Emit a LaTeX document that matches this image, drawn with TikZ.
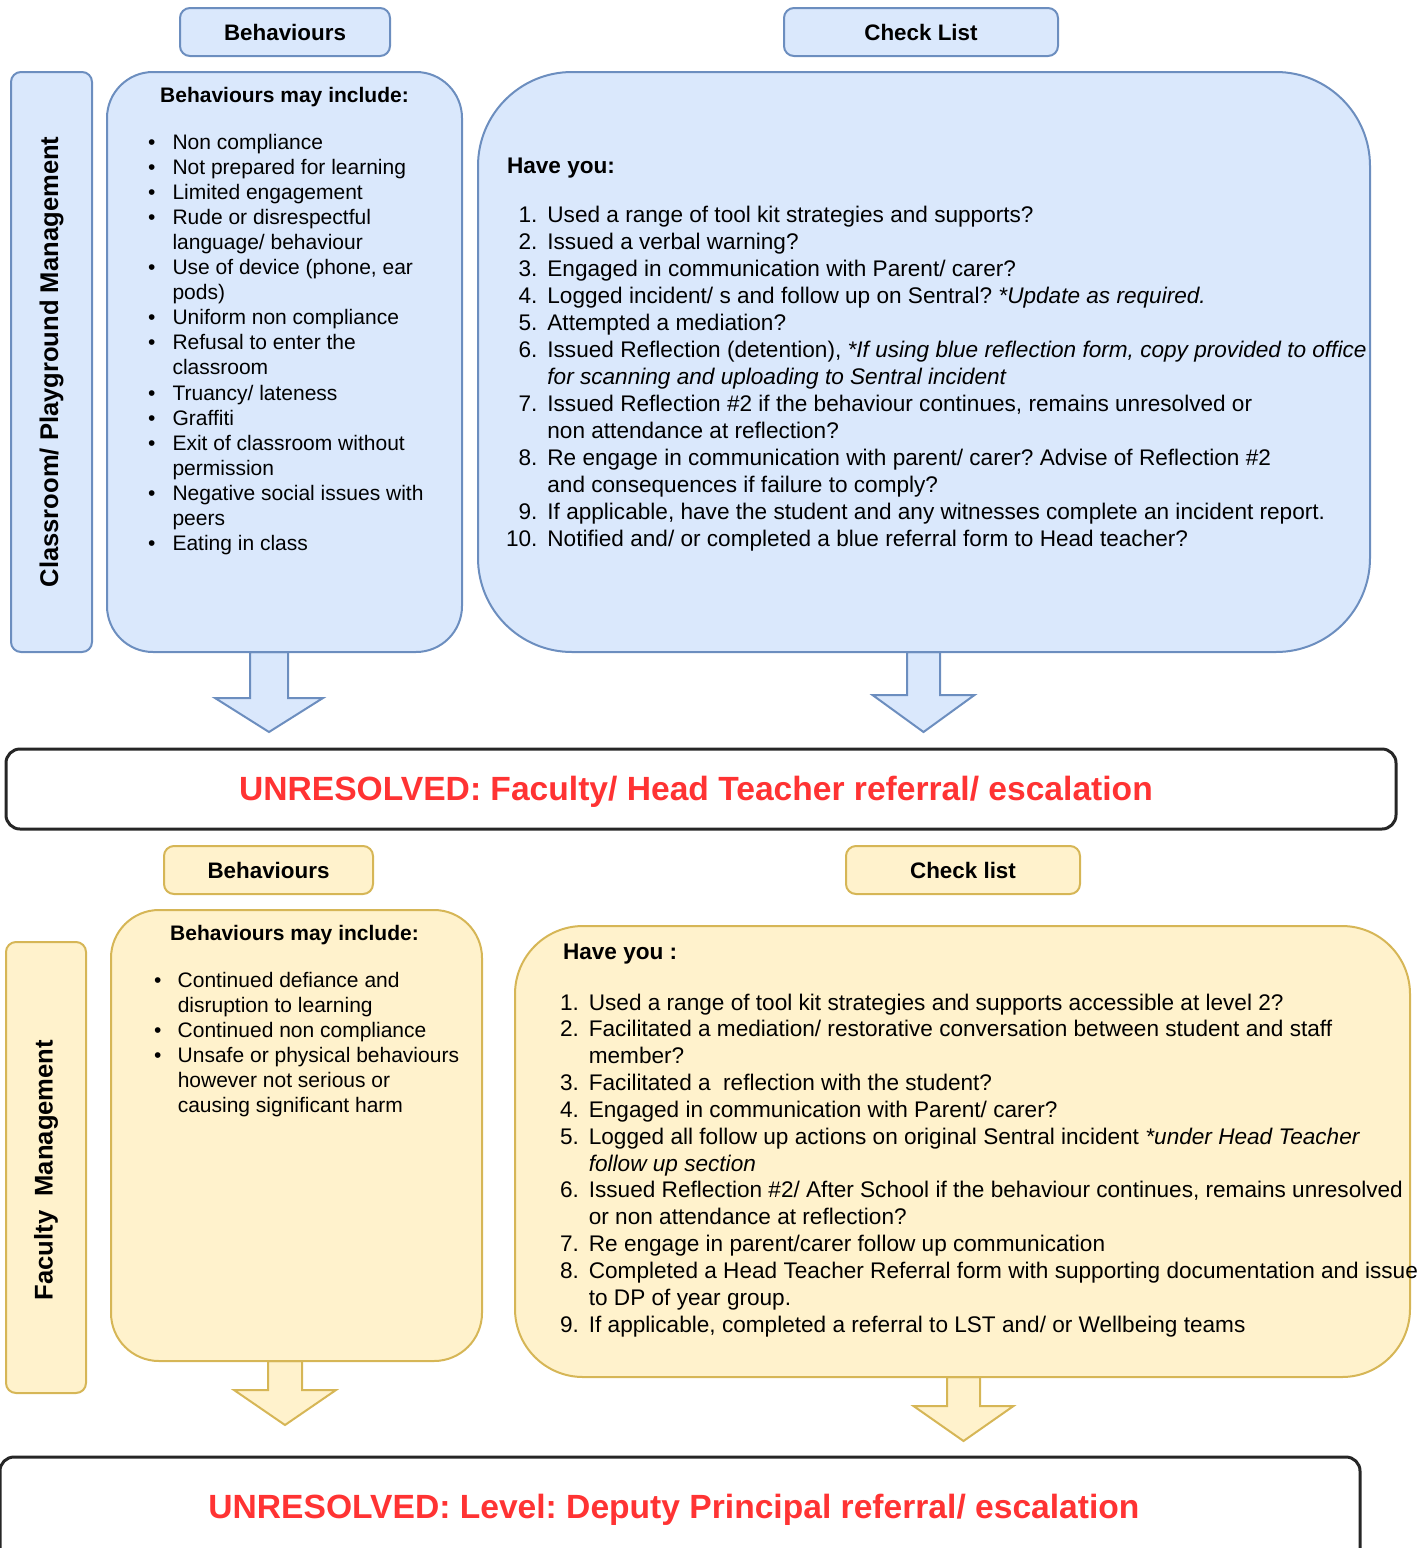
\documentclass[tikz,border=0pt]{standalone}
\usepackage{fontspec}
\setmainfont{Liberation Sans}
\usepackage{tikz}
\usetikzlibrary{positioning}
\frenchspacing

\definecolor{blueFill}{HTML}{DAE8FC}
\definecolor{blueLine}{HTML}{6C8EBF}
\definecolor{yellowFill}{HTML}{FFF2CC}
\definecolor{yellowLine}{HTML}{D6B656}
\definecolor{alertRed}{HTML}{FF3333}

% block arrow pointing down: style, centre x, top y, head y, tip y, half shaft, half head
\newcommand{\downblock}[7]{%
  \draw[#1] (#2-#6,#3) -- (#2-#6,#4) -- (#2-#7,#4) -- (#2,#5) -- (#2+#7,#4) -- (#2+#6,#4) -- (#2+#6,#3) -- cycle;}

\begin{document}
\begin{tikzpicture}[x=0.5pt,y=-0.5pt,
  every node/.style={inner sep=0pt, outer sep=0pt},
  blueshape/.style={draw=blueLine, fill=blueFill, line width=1pt},
  yellowshape/.style={draw=yellowLine, fill=yellowFill, line width=1pt},
  headbox/.style={rectangle, rounded corners=5pt, minimum height=24pt, font=\fontsize{11.2}{13}\selectfont\bfseries},
  sidebox/.style={rectangle, rounded corners=5pt},
  sidetext/.style={rotate=90, font=\fontsize{12.8}{15}\selectfont\bfseries},
  listtitle/.style={anchor=base, font=\fontsize{10.5}{12.55}\selectfont\bfseries},
  listtext/.style={anchor=base west, font=\fontsize{10.5}{12.55}\selectfont},
  checktitle/.style={anchor=base west, font=\fontsize{11.3}{13.55}\selectfont\bfseries},
  checktext/.style={anchor=base west, font=\fontsize{11.3}{13.54}\selectfont},
  alertbox/.style={draw=black!85, line width=1.5pt, rounded corners=7pt},
  alerttext/.style={text=alertRed, font=\fontsize{16.8}{20}\selectfont\bfseries}]

\useasboundingbox (0,0) rectangle (1424,1548);

% arrows go first so the boxes sit on top of their shafts
\downblock{blueshape}{269}{652}{698}{732}{19}{54}
\downblock{blueshape}{923.5}{652}{695}{732}{16.5}{51}
\downblock{yellowshape}{285}{1361}{1390}{1425}{17}{51}
\downblock{yellowshape}{963.5}{1377}{1406}{1441}{16.5}{50}

% classroom / playground level
\node[headbox, blueshape, minimum width=105pt] (bhead) at (285,32) {Behaviours};
\node[headbox, blueshape, minimum width=137pt] (chead) at (921,32) {Check List};
\node[sidebox, blueshape, minimum width=40.5pt, minimum height=290pt] (cpm) at (51.5,362) {};
\node[sidetext] (cpmtext) at (cpm.center) {Classroom/ Playground Management};
\node[blueshape, rounded corners=23pt, minimum width=177.5pt, minimum height=290pt] (blist) at (284.5,362) {};
\node[blueshape, rounded corners=47pt, minimum width=446pt, minimum height=290pt] (clist) at (924,362) {};

\node[listtitle] (btitle) at (284.5,102) {Behaviours may include:};
\node[listtext] (bitems) at (148,149) {\begin{tabular}[t]{@{}c@{\hspace{8.6pt}}l@{}}
\textbullet & Non compliance\\
\textbullet & Not prepared for learning\\
\textbullet & Limited engagement\\
\textbullet & Rude or disrespectful\\
 & language/ behaviour\\
\textbullet & Use of device (phone, ear\\
 & pods)\\
\textbullet & Uniform non compliance\\
\textbullet & Refusal to enter the\\
 & classroom\\
\textbullet & Truancy/ lateness\\
\textbullet & Graffiti\\
\textbullet & Exit of classroom without\\
 & permission\\
\textbullet & Negative social issues with\\
 & peers\\
\textbullet & Eating in class\\
\end{tabular}};

\node[checktitle] (ctitle) at (507,173) {Have you:};
\node[checktext] (citems) at (506,222) {\begin{tabular}[t]{@{}r@{\hspace{5pt}}l@{}}
1. & Used a range of tool kit strategies and supports?\\
2. & Issued a verbal warning?\\
3. & Engaged in communication with Parent/ carer?\\
4. & Logged incident/ s and follow up on Sentral? \textit{*Update as required.}\\
5. & Attempted a mediation?\\
6. & Issued Reflection (detention), \textit{*If using blue reflection form, copy provided to office}\\
 & \textit{for scanning and uploading to Sentral incident}\\
7. & Issued Reflection \#2 if the behaviour continues, remains unresolved or\\
 & non attendance at reflection?\\
8. & Re engage in communication with parent/ carer? Advise of Reflection \#2\\
 & and consequences if failure to comply?\\
9. & If applicable, have the student and any witnesses complete an incident report.\\
10. & Notified and/ or completed a blue referral form to Head teacher?\\
\end{tabular}};

% first escalation
\node[alertbox, minimum width=695pt, minimum height=40pt] (unres1) at (701,789) {};
\node[alerttext] (unres1text) at (696,792) {UNRESOLVED: Faculty/ Head Teacher referral/ escalation};

% faculty level
\node[headbox, yellowshape, minimum width=104.5pt] (bhead2) at (268.5,870) {Behaviours};
\node[headbox, yellowshape, minimum width=117pt] (chead2) at (963,870) {Check list};
\node[sidebox, yellowshape, minimum width=40pt, minimum height=225.5pt] (fm) at (46,1167.5) {};
\node[sidetext] (fmtext) at (46,1170) {Faculty~~Management};
\node[yellowshape, rounded corners=24pt, minimum width=185.5pt, minimum height=225.5pt] (blist2) at (296.5,1135.5) {};
\node[yellowshape, rounded corners=34pt, minimum width=447.5pt, minimum height=225.5pt] (clist2) at (962.5,1151.5) {};

\node[listtitle] (btitle2) at (294.5,940) {Behaviours may include:};
\node[listtext] (bitems2) at (154,987) {\begin{tabular}[t]{@{}c@{\hspace{8.2pt}}l@{}}
\textbullet & Continued defiance and\\
 & disruption to learning\\
\textbullet & Continued non compliance\\
\textbullet & Unsafe or physical behaviours\\
 & however not serious or\\
 & causing significant harm\\
\end{tabular}};

\node[checktitle] (ctitle2) at (563,959) {Have you :};
\node[checktext, font=\fontsize{11.3}{13.42}\selectfont] (citems2) at (560,1010) {\begin{tabular}[t]{@{}r@{\hspace{5pt}}l@{}}
1. & Used a range of tool kit strategies and supports accessible at level 2?\\
2. & Facilitated a mediation/ restorative conversation between student and staff\\
 & member?\\
3. & Facilitated a\ \ reflection with the student?\\
4. & Engaged in communication with Parent/ carer?\\
5. & Logged all follow up actions on original Sentral incident \textit{*under Head Teacher}\\
 & \textit{follow up section}\\
6. & Issued Reflection \#2/ After School if the behaviour continues, remains unresolved\\
 & or non attendance at reflection?\\
7. & Re engage in parent/carer follow up communication\\
8. & Completed a Head Teacher Referral form with supporting documentation and issue\\
 & to DP of year group.\\
9. & If applicable, completed a referral to LST and/ or Wellbeing teams\\
\end{tabular}};

% second escalation, runs off the bottom edge
\node[alertbox, minimum width=680pt, minimum height=62pt] (unres2) at (680,1519) {};
\node[alerttext] (unres2text) at (674,1510) {UNRESOLVED: Level: Deputy Principal referral/ escalation};
\end{tikzpicture}
\end{document}
